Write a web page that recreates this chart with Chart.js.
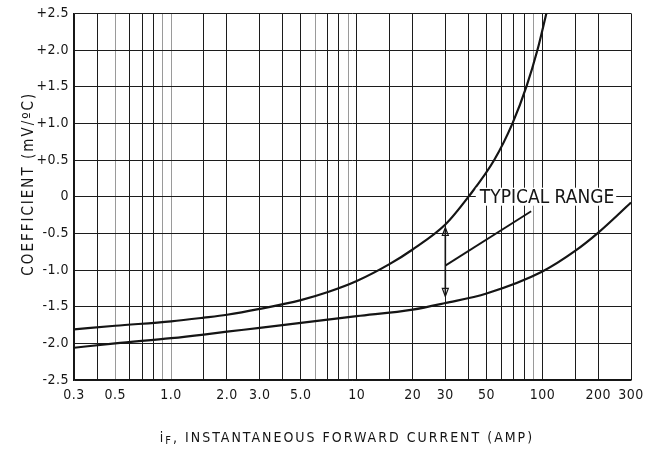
<!DOCTYPE html>
<html>
<head>
<meta charset="utf-8">
<title>Forward voltage temperature coefficient</title>
<script src="https://cdn.jsdelivr.net/npm/chart.js@4.4.1/dist/chart.umd.min.js"></script>
<style>
  html, body { margin: 0; padding: 0; background: #fff; }
  #wrap { width: 662px; height: 451px; position: relative; }
</style>
</head>
<body>
<div id="wrap"><canvas id="coeffChart"></canvas></div>
<script>
// Upper boundary of the typical range
const currentUpper = [0.3, 0.5, 1.0, 1.5, 2.0, 3.0, 5.0, 7.0, 10, 15, 20, 30, 40, 55, 69, 82, 94, 105];
const coeffUpper = [-1.81, -1.76, -1.70, -1.65, -1.61, -1.53, -1.41, -1.30, -1.15, -0.92, -0.72, -0.38, 0.0, 0.50, 1.00, 1.50, 2.00, 2.50];

// Lower boundary of the typical range
const currentLower = [0.3, 0.5, 1.0, 1.5, 2.0, 3.0, 5.0, 10, 20, 30, 50, 100, 150, 200, 300];
const coeffLower = [-2.06, -2.00, -1.93, -1.88, -1.84, -1.79, -1.72, -1.63, -1.54, -1.45, -1.32, -1.02, -0.74, -0.49, -0.08];

// Leader from the label down to the range arrow
const leaderX = [30, 87];
const leaderY = [-0.94, -0.20];

// Double arrow marking the range at 30 A
const arrowX = 30;
const arrowY = [-0.42, -1.36];

// Label anchor (left edge, centre line)
const rangeLabel = 'TYPICAL RANGE';
const rangeLabelAt = [46, 0];

// Axis grid and labels
const xGridValues = [0.3, 0.4, 0.5, 0.6, 0.7, 0.8, 0.9, 1, 1.5, 2, 3, 4, 5, 6, 7, 8, 9, 10, 15, 20, 30, 40, 50, 60, 70, 80, 90, 100, 150, 200, 300];
const xTickValues = [0.3, 0.5, 1, 2, 3, 5, 10, 20, 30, 50, 100, 200, 300];
const xTickLabels = ['0.3', '0.5', '1.0', '2.0', '3.0', '5.0', '10', '20', '30', '50', '100', '200', '300'];
const xFaintLines = [0.5, 0.9, 1, 6, 9, 90];
const yTickValues = [-2.5, -2.0, -1.5, -1.0, -0.5, 0, 0.5, 1.0, 1.5, 2.0, 2.5];
const yTickLabels = ['-2.5', '-2.0', '-1.5', '-1.0', '-0.5', '0', '+0.5', '+1.0', '+1.5', '+2.0', '+2.5'];

const INK = '#151515';
const FONT = "'Liberation Sans Narrow', 'DejaVu Sans Condensed', 'Liberation Sans', sans-serif";

function toPoints(xs, ys) {
    return xs.map(function (x, i) { return { x: x, y: ys[i] }; });
}

// Range arrow, label and axis titles
const decorations = {
    id: 'decorations',
    beforeDraw: function (chart) {
        chart.ctx.letterSpacing = '0.5px';
    },
    afterDatasetsDraw: function (chart) {
        const ctx = chart.ctx;
        const xs = chart.scales.x;
        const ys = chart.scales.y;

        // double arrow
        const ax = xs.getPixelForValue(arrowX);
        const top = ys.getPixelForValue(arrowY[0]);
        const bot = ys.getPixelForValue(arrowY[1]);
        ctx.save();
        ctx.strokeStyle = INK;
        ctx.lineWidth = 1.6;
        ctx.beginPath();
        ctx.moveTo(ax, top + 2);
        ctx.lineTo(ax, bot - 2);
        ctx.stroke();
        ctx.lineWidth = 1.2;
        ctx.beginPath();
        ctx.moveTo(ax, top); ctx.lineTo(ax - 3, top + 8); ctx.lineTo(ax + 3, top + 8); ctx.closePath();
        ctx.moveTo(ax, bot); ctx.lineTo(ax - 3, bot - 8); ctx.lineTo(ax + 3, bot - 8); ctx.closePath();
        ctx.stroke();

        // label with white backing over the grid
        ctx.font = '19px ' + FONT;
        ctx.letterSpacing = '0px';
        const lx = xs.getPixelForValue(rangeLabelAt[0]);
        const ly = ys.getPixelForValue(rangeLabelAt[1]);
        const w = ctx.measureText(rangeLabel).width;
        ctx.fillStyle = '#fff';
        ctx.fillRect(lx - 4, ly - 9, w + 6, 18);
        ctx.fillStyle = INK;
        ctx.textAlign = 'left';
        ctx.textBaseline = 'middle';
        ctx.fillText(rangeLabel, lx, ly + 1);
        ctx.restore();
    },
    afterDraw: function (chart) {
        const ctx = chart.ctx;
        const area = chart.chartArea;
        ctx.save();
        ctx.fillStyle = INK;
        ctx.textBaseline = 'alphabetic';

        // x title with subscript F
        ctx.letterSpacing = '2px';
        const big = '14px ' + FONT;
        const small = '11px ' + FONT;
        const rest = ', INSTANTANEOUS FORWARD CURRENT (AMP)';
        ctx.font = big;
        const wi = ctx.measureText('i').width;
        const wr = ctx.measureText(rest).width;
        ctx.font = small;
        const wf = ctx.measureText('F').width;
        let x = 347 - (wi + wf + wr) / 2;
        const base = 442;
        ctx.font = big;
        ctx.fillText('i', x, base);
        x += wi;
        ctx.font = small;
        ctx.fillText('F', x, base + 2);
        x += wf;
        ctx.font = big;
        ctx.fillText(rest, x, base);

        // y title
        ctx.font = '15px ' + FONT;
        ctx.letterSpacing = '2px';
        ctx.translate(29, (area.top + area.bottom) / 2 - 13);
        ctx.rotate(-Math.PI / 2);
        ctx.textAlign = 'center';
        ctx.textBaseline = 'middle';
        ctx.fillText('COEFFICIENT (mV/ºC)', 0, 0);
        ctx.restore();
    }
};

const lineStyle = {
    borderColor: INK,
    borderWidth: 2.2,
    pointRadius: 0,
    fill: false,
    cubicInterpolationMode: 'monotone'
};

new Chart(document.getElementById('coeffChart'), {
    type: 'line',
    data: {
        datasets: [
            Object.assign({ label: 'Upper', data: toPoints(currentUpper, coeffUpper) }, lineStyle),
            Object.assign({ label: 'Lower', data: toPoints(currentLower, coeffLower) }, lineStyle),
            { label: 'Leader', data: toPoints(leaderX, leaderY), borderColor: INK, borderWidth: 1.8, pointRadius: 0, tension: 0 }
        ]
    },
    options: {
        responsive: true,
        maintainAspectRatio: false,
        animation: false,
        layout: { padding: { top: 13, right: 31, left: 0, bottom: 0 } },
        plugins: { legend: { display: false }, tooltip: { enabled: false } },
        scales: {
            x: {
                type: 'logarithmic',
                min: 0.3,
                max: 300,
                afterBuildTicks: function (scale) {
                    scale.ticks = xGridValues.map(function (v) { return { value: v }; });
                },
                afterFit: function (scale) { scale.height = 71; },
                border: { display: true, color: INK, width: 1.5 },
                grid: {
                    drawTicks: false,
                    lineWidth: 1,
                    color: function (c) {
                        if (c.tick && xFaintLines.indexOf(c.tick.value) !== -1) return '#9a9a9a';
                        return '#1c1c1c';
                    }
                },
                ticks: {
                    autoSkip: false,
                    maxRotation: 0,
                    padding: 7,
                    color: INK,
                    font: { family: FONT, size: 14 },
                    callback: function (value) {
                        const i = xTickValues.indexOf(value);
                        return i === -1 ? '' : xTickLabels[i];
                    }
                }
            },
            y: {
                type: 'linear',
                min: -2.5,
                max: 2.5,
                afterBuildTicks: function (scale) {
                    scale.ticks = yTickValues.map(function (v) { return { value: v }; });
                },
                afterFit: function (scale) { scale.width = 74; },
                border: { display: true, color: INK, width: 1.5 },
                grid: { drawTicks: false, lineWidth: 1, color: '#1c1c1c' },
                ticks: {
                    padding: 5,
                    color: INK,
                    font: { family: FONT, size: 14 },
                    callback: function (value) {
                        const i = yTickValues.indexOf(value);
                        return i === -1 ? '' : yTickLabels[i];
                    }
                }
            }
        }
    },
    plugins: [decorations]
});
</script>
</body>
</html>
